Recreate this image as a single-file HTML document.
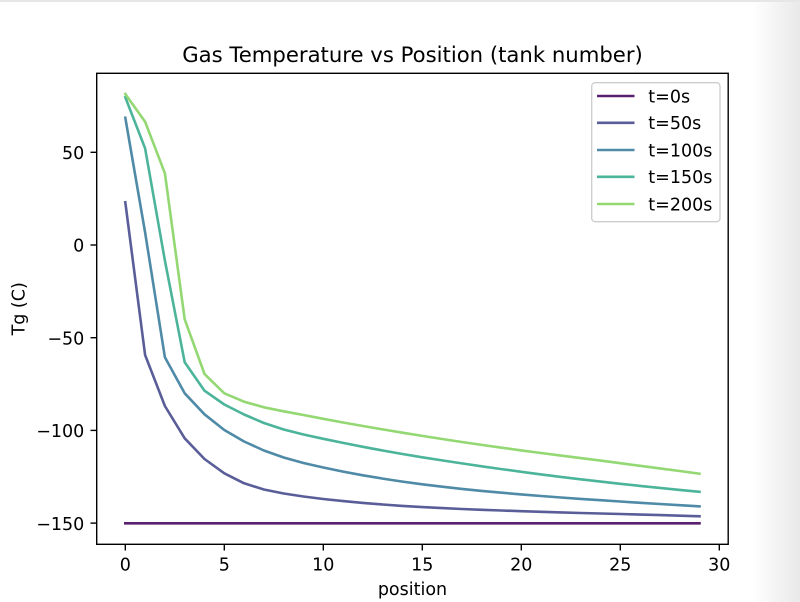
<!DOCTYPE html>
<html>
<head>
<meta charset="utf-8">
<style>
  html, body { margin: 0; padding: 0; background: #ffffff; }
  body { width: 800px; height: 602px; overflow: hidden; }
  svg { display: block; }
  text { font-family: "DejaVu Sans", "Liberation Sans", sans-serif; fill: #000; }
</style>
</head>
<body>
<svg width="800" height="602" viewBox="0 0 800 602" xmlns="http://www.w3.org/2000/svg">
  <defs>
    <linearGradient id="rg" x1="0" y1="0" x2="1" y2="0">
      <stop offset="0" stop-color="#ffffff"/>
      <stop offset="1" stop-color="#e9e9e9"/>
    </linearGradient>
  </defs>
  <rect x="0" y="0" width="800" height="602" fill="#ffffff"/>
  <rect x="752" y="0" width="48" height="602" fill="url(#rg)"/>
  <rect x="0" y="0" width="800" height="2" fill="#e6e6e6"/>

  <!-- title -->
  <text x="412.5" y="62" font-size="21.2px" text-anchor="middle">Gas Temperature vs Position (tank number)</text>

  <!-- series -->
  <g fill="none" stroke-width="2.6" stroke-linejoin="round" stroke-linecap="square">
    <polyline stroke="#5a2070" points="125.3,523.3 699.5,523.3"/>
    <polyline stroke="#5a5e98" points="125.3,202.3 145.1,355 164.9,406 184.7,438.3 204.5,459 224.3,473.3 244.1,483.3 263.9,489.5 283.7,493.5 303.5,496.5 323.3,499.0 343.1,501.1 362.9,502.9 382.7,504.5 402.5,505.9 422.3,507.1 442.1,508.1 461.9,509.0 481.7,509.8 501.5,510.5 521.3,511.2 541.1,511.8 560.9,512.4 580.7,513.0 600.5,513.5 620.3,514.0 640.1,514.6 659.9,515.1 679.7,515.7 699.5,516.3"/>
    <polyline stroke="#4f8aa7" points="125.3,117.7 145.1,232.4 164.9,357.3 184.7,393.3 204.5,414.3 224.3,430 244.1,441.5 263.9,450.5 283.7,457.5 303.5,463 323.3,467.5 343.1,471.6 362.9,475.3 382.7,478.6 402.5,481.6 422.3,484.3 442.1,486.7 461.9,488.9 481.7,490.9 501.5,492.7 521.3,494.4 541.1,496.0 560.9,497.5 580.7,498.9 600.5,500.2 620.3,501.5 640.1,502.8 659.9,504.0 679.7,505.2 699.5,506.4"/>
    <polyline stroke="#4cb49a" points="125.3,97.3 145.1,148.3 164.9,260.6 184.7,362.3 204.5,390.7 224.3,404.5 244.1,414.5 263.9,423 283.7,429.5 303.5,434.5 323.3,438.8 343.1,442.9 362.9,446.8 382.7,450.5 402.5,454.0 422.3,457.3 442.1,460.4 461.9,463.4 481.7,466.3 501.5,469.1 521.3,471.8 541.1,474.4 560.9,476.9 580.7,479.3 600.5,481.6 620.3,483.8 640.1,485.9 659.9,487.9 679.7,489.9 699.5,491.8"/>
    <polyline stroke="#93d873" points="125.3,94 145.1,121.7 164.9,173.3 184.7,319.3 204.5,374 224.3,393.3 244.1,401.7 263.9,407.3 283.7,411.3 303.5,415 323.3,418.8 343.1,422.5 362.9,426.0 382.7,429.4 402.5,432.7 422.3,435.9 442.1,439.0 461.9,442.0 481.7,444.9 501.5,447.7 521.3,450.4 541.1,453.0 560.9,455.6 580.7,458.1 600.5,460.6 620.3,463.2 640.1,465.8 659.9,468.4 679.7,471.0 699.5,473.7"/>
  </g>

  <!-- axes spines -->
  <rect x="96.7" y="73.3" width="631.5" height="471" fill="none" stroke="#000" stroke-width="1.4"/>

  <!-- ticks -->
  <g stroke="#000" stroke-width="1.4">
    <line x1="125.3" y1="544.3" x2="125.3" y2="550.5"/>
    <line x1="224.3" y1="544.3" x2="224.3" y2="550.5"/>
    <line x1="323.3" y1="544.3" x2="323.3" y2="550.5"/>
    <line x1="422.3" y1="544.3" x2="422.3" y2="550.5"/>
    <line x1="521.3" y1="544.3" x2="521.3" y2="550.5"/>
    <line x1="620.3" y1="544.3" x2="620.3" y2="550.5"/>
    <line x1="719.3" y1="544.3" x2="719.3" y2="550.5"/>
    <line x1="90.5" y1="152.3" x2="96.7" y2="152.3"/>
    <line x1="90.5" y1="245" x2="96.7" y2="245"/>
    <line x1="90.5" y1="337.7" x2="96.7" y2="337.7"/>
    <line x1="90.5" y1="430.4" x2="96.7" y2="430.4"/>
    <line x1="90.5" y1="523.1" x2="96.7" y2="523.1"/>
  </g>
  <g font-size="17.5px" text-anchor="middle">
    <text x="125.3" y="570.5">0</text>
    <text x="224.3" y="570.5">5</text>
    <text x="323.3" y="570.5">10</text>
    <text x="422.3" y="570.5">15</text>
    <text x="521.3" y="570.5">20</text>
    <text x="620.3" y="570.5">25</text>
    <text x="719.3" y="570.5">30</text>
  </g>
  <g font-size="17.5px" text-anchor="end">
    <text x="84.3" y="159">50</text>
    <text x="84.3" y="251.7">0</text>
    <text x="84.3" y="344.4">−50</text>
    <text x="84.3" y="437.1">−100</text>
    <text x="84.3" y="529.8">−150</text>
  </g>

  <!-- axis labels -->
  <text x="412.5" y="595" font-size="17.5px" text-anchor="middle">position</text>
  <text transform="translate(24.5,308.8) rotate(-90)" x="0" y="0" font-size="17.5px" text-anchor="middle">Tg (C)</text>

  <!-- legend -->
  <rect x="591.7" y="82.7" width="128.3" height="139" rx="3.5" ry="3.5" fill="#ffffff" fill-opacity="0.8" stroke="#cccccc" stroke-width="1.3"/>
  <g stroke-width="2.6" stroke-linecap="butt">
    <line x1="597" y1="96" x2="634.5" y2="96" stroke="#5a2070"/>
    <line x1="597" y1="122.8" x2="634.5" y2="122.8" stroke="#5a5e98"/>
    <line x1="597" y1="150" x2="634.5" y2="150" stroke="#4f8aa7"/>
    <line x1="597" y1="176.8" x2="634.5" y2="176.8" stroke="#4cb49a"/>
    <line x1="597" y1="204" x2="634.5" y2="204" stroke="#93d873"/>
  </g>
  <g font-size="17.5px">
    <text x="648.3" y="102.4">t=0s</text>
    <text x="648.3" y="129.2">t=50s</text>
    <text x="648.3" y="156.4">t=100s</text>
    <text x="648.3" y="183.2">t=150s</text>
    <text x="648.3" y="210.4">t=200s</text>
  </g>
</svg>
</body>
</html>
